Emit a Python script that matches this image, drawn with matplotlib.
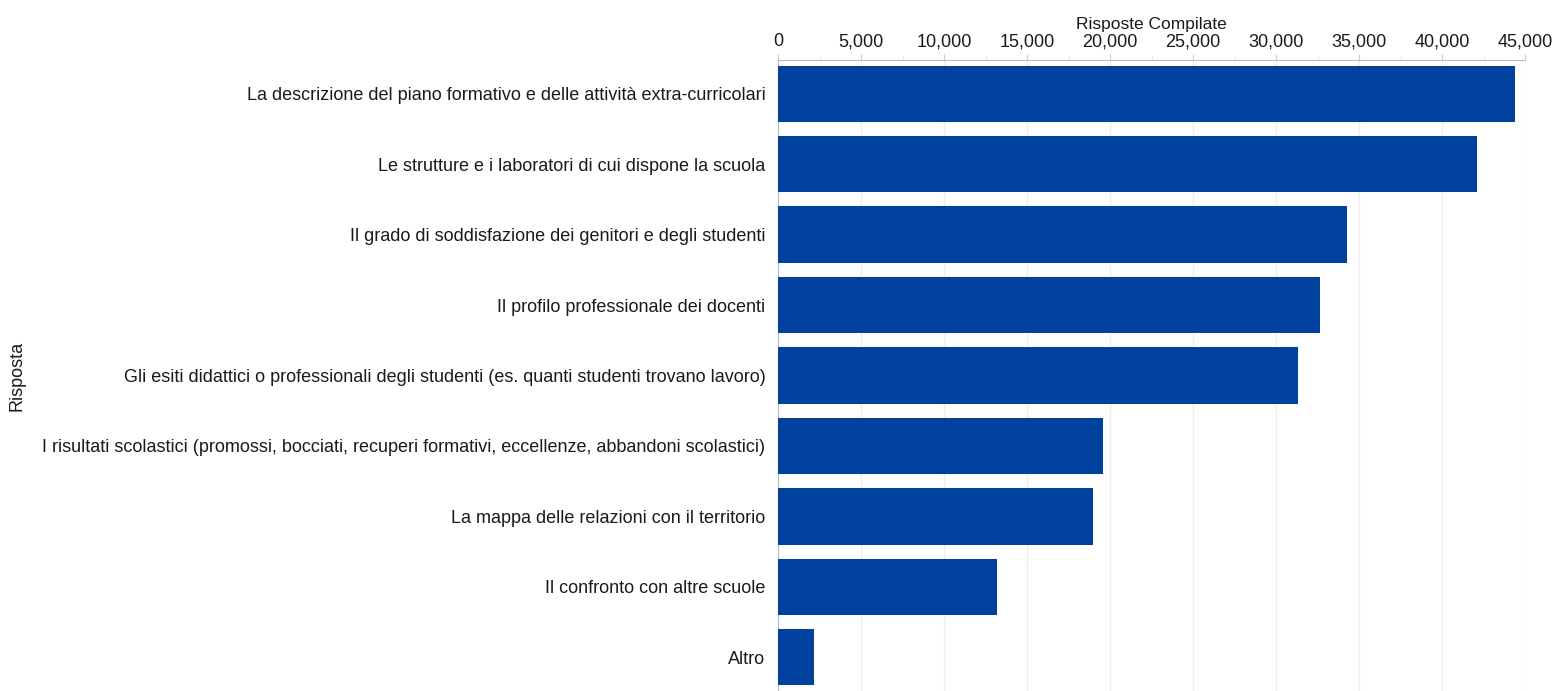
import matplotlib
matplotlib.use("Agg")
import matplotlib.pyplot as plt
from matplotlib.ticker import FuncFormatter, MultipleLocator

categories = [
    "La descrizione del piano formativo e delle attività extra-curricolari",
    "Le strutture e i laboratori di cui dispone la scuola",
    "Il grado di soddisfazione dei genitori e degli studenti",
    "Il profilo professionale dei docenti",
    "Gli esiti didattici o professionali degli studenti (es. quanti studenti trovano lavoro)",
    "I risultati scolastici (promossi, bocciati, recuperi formativi, eccellenze, abbandoni scolastici)",
    "La mappa delle relazioni con il territorio",
    "Il confronto con altre scuole",
    "Altro",
]
values = [44400, 42100, 34300, 32650, 31300, 19600, 19000, 13200, 2170]
x_ticks = [0, 5000, 10000, 15000, 20000, 25000, 30000, 35000, 40000, 45000]

plt.rcParams['font.family'] = ['Liberation Sans', 'DejaVu Sans']

fig = plt.figure(figsize=(15.52, 6.91), dpi=100)
ax = fig.add_axes([778/1552, 0.0, (1525-778)/1552, 1-60/691])

ypos = list(range(len(categories)))
ax.barh(ypos, values, height=0.8, color='#00419e', zorder=3)
ax.set_ylim(len(categories) - 0.52, -0.48)
ax.set_xlim(0, 45000)

ax.xaxis.tick_top()
ax.xaxis.set_label_position('top')
ax.set_xticks(x_ticks)
ax.xaxis.set_minor_locator(MultipleLocator(2500))
ax.xaxis.set_major_formatter(FuncFormatter(lambda v, p: f"{int(v):,}"))
ax.tick_params(axis='x', which='major', length=4, color='#cccccc', labelsize=13, pad=3, labelcolor='#1a1a1a')
ax.tick_params(axis='x', which='minor', length=3, color='#dddddd')
ax.set_xlabel("Risposte Compilate", fontsize=12.5, labelpad=3, color='#1a1a1a')

ax.set_yticks(ypos)
ax.set_yticklabels(categories, fontsize=13, color='#1a1a1a')
ax.tick_params(axis='y', length=0, pad=9)
ax.set_ylabel("Risposta", fontsize=13, color='#1a1a1a')
ax.yaxis.set_label_coords((26 - 778) / 747, 0.5)

ax.grid(axis='x', color='#eeeeee', linewidth=1, zorder=0)
for s in ['right', 'bottom']:
    ax.spines[s].set_visible(False)
ax.spines['top'].set_color('#bbbbbb')
ax.spines['left'].set_color('#bbbbbb')

fig.savefig("out.png", dpi=100)
